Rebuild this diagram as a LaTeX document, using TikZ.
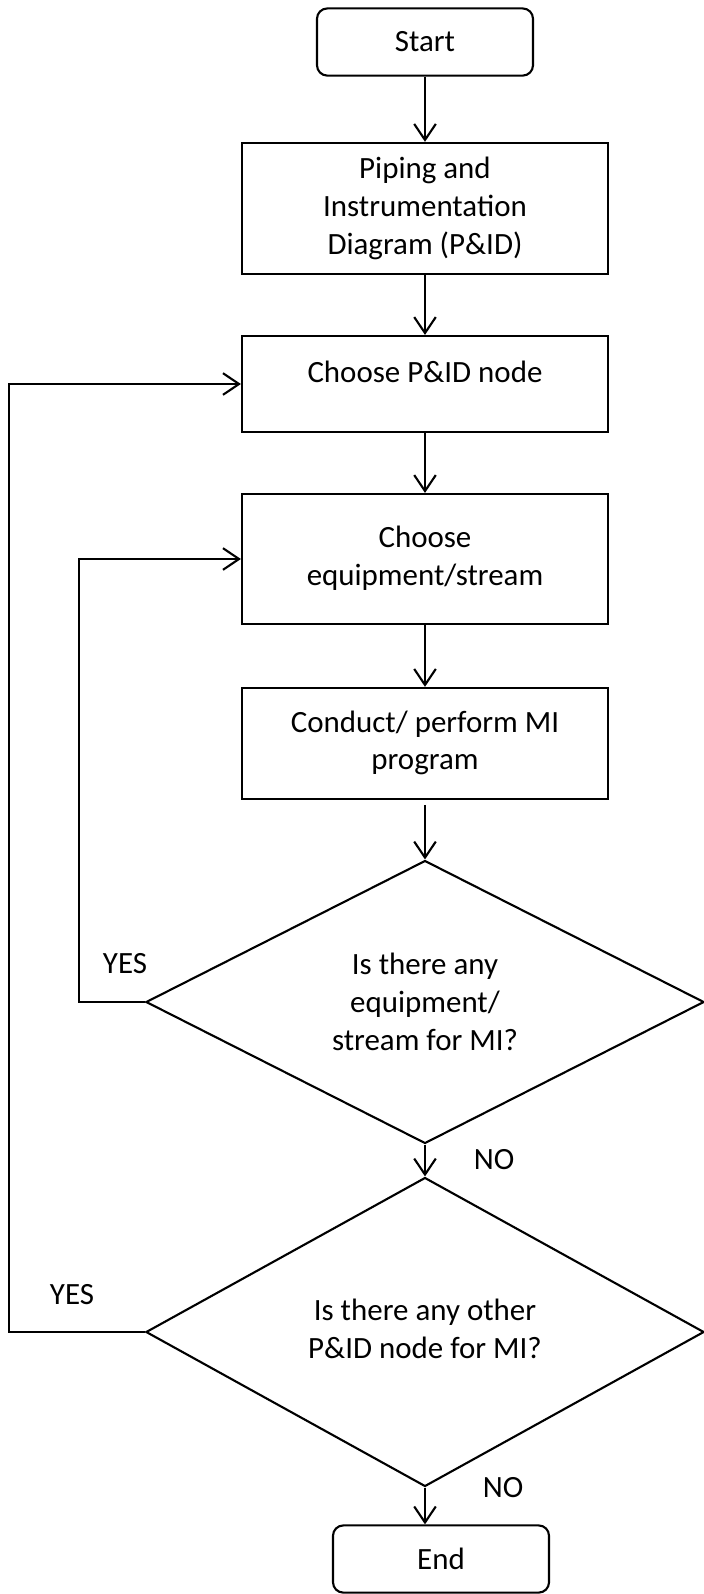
\documentclass[tikz,border=0pt]{standalone}
\usepackage{fontspec}
\setmainfont{Carlito}
\usetikzlibrary{shapes.geometric,arrows.meta}

\begin{document}
\begin{tikzpicture}[x=0.0125cm,y=-0.0125cm,line width=0.75pt,
  every node/.style={font=\fontsize{11}{13.4}\selectfont},
  box/.style={draw,rectangle,align=center,minimum width=4.575cm},
  term/.style={draw,rectangle,rounded corners=0.13cm,minimum width=2.7cm,minimum height=0.84cm},
  decision/.style={draw,diamond,align=center,inner sep=0pt,minimum width=6.975cm,minimum height=3.325cm},
  flow/.style={-{Straight Barb[length=0.2cm,width=0.27cm]}}]
  \useasboundingbox (0,0) rectangle (704,1594);
  % main column
  \node[term] (start) at (425,42) {Start};
  \node[box,minimum height=1.64cm] (pid) at (425,208.5) {Piping and\\Instrumentation\\Diagram (P\&ID)};
  \node[box,minimum height=1.2cm] (pick) at (425,384) {\raisebox{0.3cm}{Choose P\&ID node}};
  \node[box,minimum height=1.625cm] (equip) at (425,559)
    {\raisebox{0.25cm}{\begin{tabular}{@{}c@{}}Choose\\equipment/stream\end{tabular}}};
  \node[box,minimum height=1.39cm] (conduct) at (425,743.5)
    {\raisebox{0.175cm}{\begin{tabular}{@{}c@{}}Conduct/ perform MI\\program\end{tabular}}};
  \node[decision] (dec1) at (425,1002) {Is there any\\equipment/\\stream for MI?};
  \node[decision] (dec2) at (425,1332)
    {\raisebox{0.375cm}{\begin{tabular}{@{}c@{}}Is there any other\\P\&ID node for MI?\end{tabular}}};
  \node[term] (end) at (441,1559) {End};
  % answers
  \node (yes1) at (125,964) {YES};
  \node (no1) at (494,1160) {NO};
  \node (yes2) at (72,1295) {YES};
  \node (no2) at (503,1488) {NO};
  % arrows
  \draw[flow] (start) -- (pid);
  \draw[flow] (pid) -- (pick);
  \draw[flow] (pick) -- (equip);
  \draw[flow] (equip) -- (conduct);
  \draw[flow,shorten <=0.06cm] (conduct) -- (dec1);
  \draw[flow] (dec1) -- (dec2);
  \draw[flow] (dec2.south) -- (dec2.south |- end.north);
  \draw[flow] (dec1.west) -- ++(-66,0) |- (equip.west);
  \draw[flow] (dec2.west) -- ++(-136,0) |- (pick.west);
\end{tikzpicture}
\end{document}
